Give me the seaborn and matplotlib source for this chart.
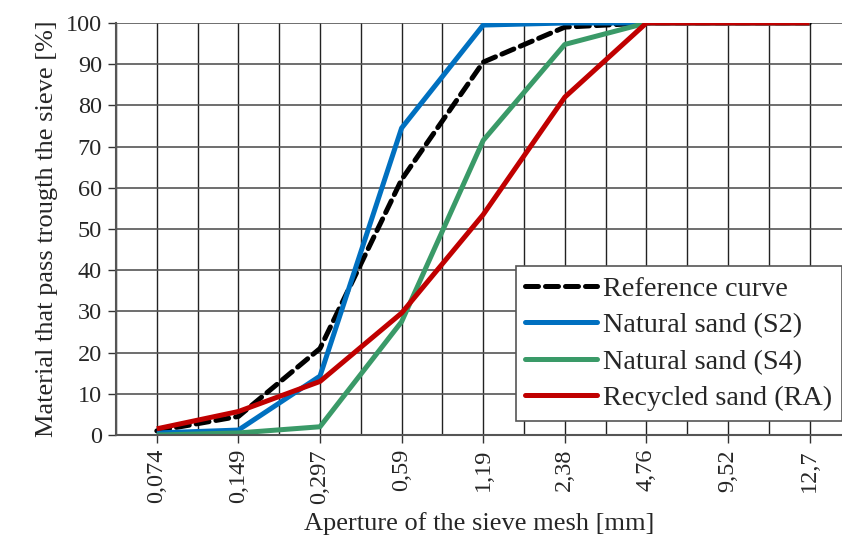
import pandas as pd
import matplotlib.pyplot as plt
import matplotlib.ticker as mtick
import seaborn as sns
import numpy as np

sns.set_style('white')
plt.rcParams['font.family'] = ['Liberation Serif', 'DejaVu Serif']

sieves = ['0,074', '0,149', '0,297', '0,59', '1,19', '2,38', '4,76', '9,52', '12,7']
reference = [1.0, 4.5, 21, 62, 90.5, 99, 100, 100, 100]
natural_s2 = [0.5, 1.2, 14.3, 74.5, 99.5, 100, 100, 100, 100]
natural_s4 = [0.0, 0.5, 2.0, 27.5, 71.5, 94.8, 100, 100, 100]
recycled_ra = [1.5, 5.7, 13.0, 29.6, 53.5, 82.0, 100, 100, 100]

names = ['Reference curve', 'Natural sand (S2)', 'Natural sand (S4)', 'Recycled sand (RA)']
colors = ['black', '#0070C0', '#3A9A68', '#C00000']

rows = []
for nm, vals in zip(names, [reference, natural_s2, natural_s4, recycled_ra]):
    for i, v in enumerate(vals):
        rows.append({'pos': i, 'pass': v, 'curve': nm})
df = pd.DataFrame(rows)

fig = plt.figure(figsize=(8.42, 5.46), dpi=100)
ax = fig.add_axes([116/842, 111/546, 1 - 116/842, 412/546])

# grid first so the curves sit on top
ax.set_xlim(-0.5, 8.397)
ax.set_ylim(0, 100)
ax.set_yticks(range(0, 101, 10))
ax.set_xticks(range(len(sieves)))
ax.set_xticklabels(sieves, rotation=90)
ax.xaxis.set_minor_locator(mtick.FixedLocator(np.arange(-0.5, 9, 1)))
ax.grid(True, which='both', axis='x', color='#222222', lw=1)
ax.grid(True, which='major', axis='y', color='#555555', lw=1.2)
ax.set_axisbelow(True)

lw = 3.6
sns.lineplot(data=df, x='pos', y='pass', hue='curve', style='curve',
             hue_order=names, style_order=names,
             palette=dict(zip(names, colors)),
             dashes={names[0]: (2.6, 1.4), names[1]: '', names[2]: '', names[3]: ''},
             lw=lw, legend=False, ax=ax)
for ln in ax.lines:
    ln.set_solid_capstyle('butt')
    ln.set_dash_capstyle('round')

for s in ['right', 'top']:
    ax.spines[s].set_visible(False)
for s in ['left', 'bottom']:
    ax.spines[s].set_color('#555555')
    ax.spines[s].set_linewidth(1.5)

ax.tick_params(axis='both', which='major', direction='out', length=6, width=1,
               color='#333333', labelsize=17.5, pad=4, left=True, bottom=True)
ax.tick_params(axis='x', which='minor', length=0)

ax.set_xlabel('Aperture of the sieve mesh [mm]', fontsize=19, labelpad=6)
ax.set_ylabel('Material that pass trougth the sieve [%]', fontsize=19, labelpad=6)

handles = [plt.Line2D([], [], color=c, lw=lw, ls=(0, (2.6, 1.4)) if i == 0 else '-',
                      dash_capstyle='round', solid_capstyle='round')
           for i, c in enumerate(colors)]
leg = ax.legend(handles, names, loc='lower right', bbox_to_anchor=(1.0, 0.034),
                fontsize=20.3, frameon=True, fancybox=False, framealpha=1,
                edgecolor='#555555', handlelength=2.55, handletextpad=0.2,
                borderpad=0.35, labelspacing=0.38, borderaxespad=0)
leg.get_frame().set_linewidth(1.2)

fig.savefig('out.png', dpi=100)
